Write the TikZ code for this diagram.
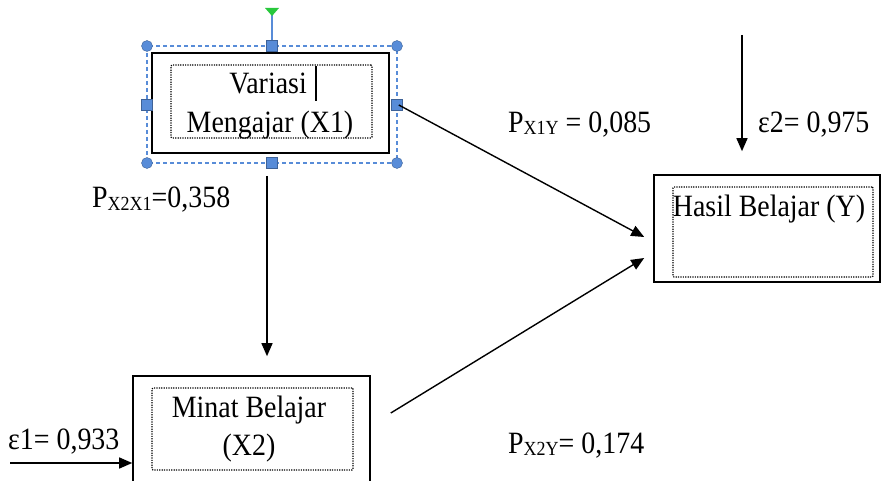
\documentclass[tikz,border=0pt]{standalone}
\usepackage{fontspec}
\setmainfont{Liberation Serif}[FakeStretch=0.9]
\usetikzlibrary{arrows.meta}

\definecolor{selblue}{RGB}{88,140,216}
\definecolor{handlegreen}{RGB}{40,200,60}

% small lowered letters after P
\newcommand{\psub}[1]{\raisebox{-2pt}{\fontsize{20}{20}\selectfont #1}}

\begin{document}
\begin{tikzpicture}[
    x=1pt, y=-1pt,
    every node/.style={text=black, font=\fontsize{31}{36}\selectfont},
    outer/.style={draw, line width=1.6pt, inner sep=0pt},
    inner/.style={draw, dash pattern=on 1.2pt off 1.2pt, line width=1.2pt, inner sep=0pt, rounded corners=1pt},
    word/.style={anchor=base, inner sep=0pt},
    lbl/.style={anchor=base west, inner sep=0pt},
    arr/.style={-{Triangle[length=13pt,width=11pt]}, line width=1.4pt},
    selline/.style={selblue, dash pattern=on 4pt off 3pt, line width=1.3pt},
    sqhandle/.style={draw=selblue!70!black, fill=selblue, minimum size=11pt, inner sep=0pt},
    cirhandle/.style={circle, draw=selblue!70!black, fill=selblue, minimum size=11pt, inner sep=0pt}
]
    \useasboundingbox (0,0) rectangle (881,481);

    % ==========================
    % BOXES
    % ==========================
    \node[outer, minimum width=237pt, minimum height=100pt] (x1) at (270.5,103) {};
    \node[inner, minimum width=201pt, minimum height=73pt] (x1in) at (271.5,101.5) {};
    \node[word] (x1a) at (268,94) {Variasi};
    \node[word] (x1b) at (270,133) {Mengajar (X1)};

    \node[outer, minimum width=226pt, minimum height=107pt] (y) at (767,228.5) {};
    \node[inner, minimum width=200pt, minimum height=90pt] (yin) at (773,232) {};
    \node[word] (yt) at (769,217) {Hasil Belajar (Y)};

    \node[outer, minimum width=237pt, minimum height=124pt] (x2) at (251.5,438) {};
    \node[inner, minimum width=201pt, minimum height=82pt] (x2in) at (252.5,429) {};
    \node[word] (x2a) at (249,417) {Minat Belajar};
    \node[word] (x2b) at (249,455) {(X2)};

    % ==========================
    % SELECTION FRAME ON X1
    % ==========================
    \draw[selblue, line width=1.2pt] (272,13) -- (272,46);
    \fill[handlegreen] (265,8) -- (279,8) -- (272,16) -- cycle;
    \draw[selline] (147,46) rectangle (397,163);
    \foreach \px/\py in {147/46, 397/46, 147/163, 397/163}
        \node[cirhandle] at (\px,\py) {};
    \foreach \px/\py in {272/46, 272/163, 147/104.5, 397/104.5}
        \node[sqhandle] at (\px,\py) {};
    \draw[line width=2.6pt] (316,66) -- (316,101);

    % ==========================
    % PATHS
    % ==========================
    \coordinate (e1) at (10,463);
    \coordinate (e2) at (742,35);

    \draw[arr, shorten <=22pt, shorten >=19pt]
        ([xshift=-3.5pt]x1.south) -- ([xshift=-3.5pt]x1.south |- x2.north);
    \draw[arr] ([xshift=9pt,yshift=-2pt]x1.east) -- ([xshift=-9pt,yshift=-8.5pt]y.west);
    \draw[arr] ([xshift=20pt,yshift=25pt]x2.east) -- ([xshift=-9pt,yshift=-29.5pt]y.west);
    \draw[arr, shorten >=23pt] (e2) -- (e2 |- y.north);
    \draw[arr] (e1) -- (e1 -| x2.west);

    % ==========================
    % COEFFICIENTS
    % ==========================
    \node[lbl] (p21) at (92,208) {P\psub{X2X1}=0,358};
    \node[lbl] (p1y) at (508,133) {P\psub{X1Y} = 0,085};
    \node[lbl] (eps2) at (758,133) {ε2= 0,975};
    \node[lbl] (p2y) at (508,453) {P\psub{X2Y}= 0,174};
    \node[lbl] (eps1) at (8,449) {ε1= 0,933};

\end{tikzpicture}
\end{document}
